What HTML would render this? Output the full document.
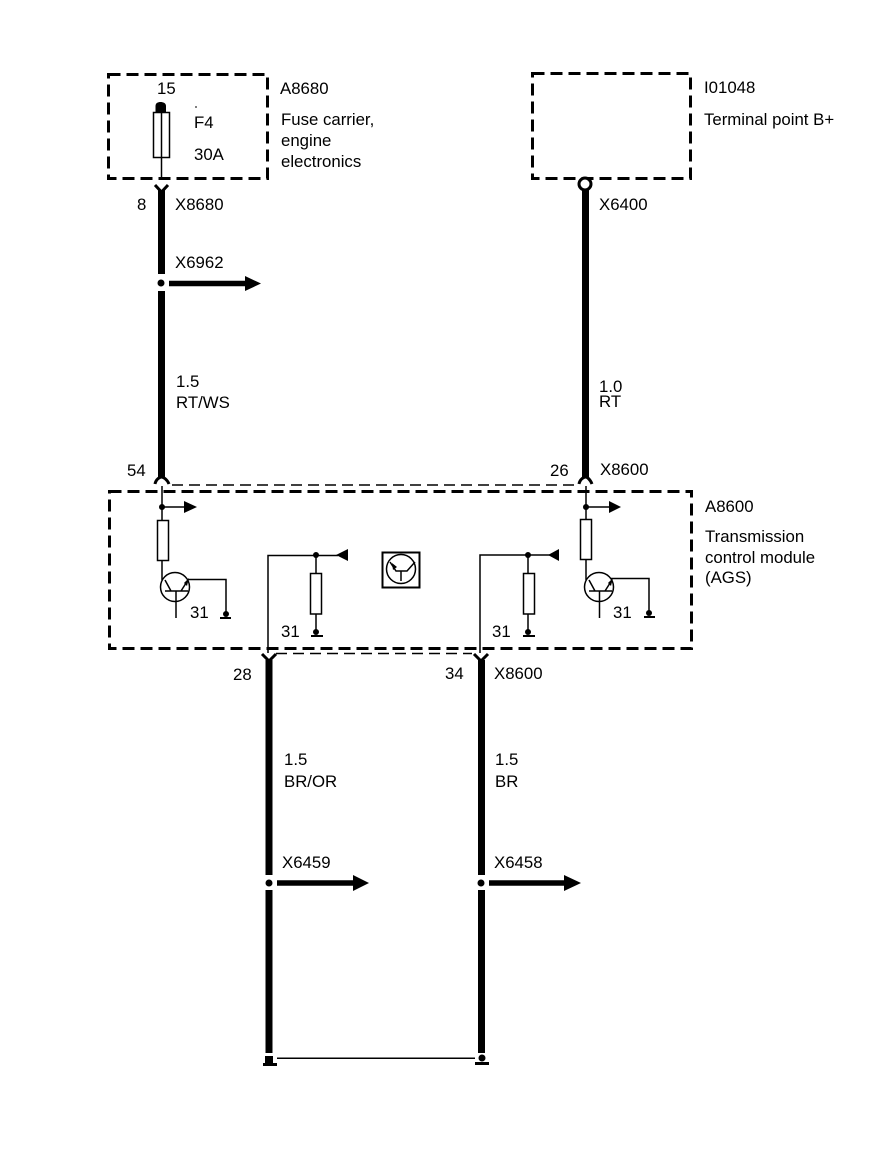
<!DOCTYPE html>
<html><head><meta charset="utf-8"><style>
html,body{margin:0;padding:0;background:#fff}
svg{display:block}
text{font-family:"Liberation Sans",sans-serif;font-size:16.800px;fill:#000}
</style></head><body>
<svg width="896" height="1170" viewBox="0 0 896 1170" xmlns="http://www.w3.org/2000/svg">
<rect width="896" height="1170" fill="#fff"/>
<!-- dashed boxes -->
<g fill="none" stroke="#000" stroke-width="3" stroke-dasharray="12 6">
<rect x="108.500" y="74.500" width="159" height="104"/>
<rect x="532.500" y="73.500" width="158" height="105"/>
<rect x="109.500" y="491.500" width="582" height="157"/>
</g>
<g fill="none" stroke="#000" stroke-width="1.500" stroke-dasharray="11 6">
<path d="M172 485H578"/>
<path d="M276 653.500H472"/>
</g>
<!-- thick wires -->
<g stroke="#000" stroke-width="7" fill="none">
<path d="M161.500 190V274M161.500 291V478"/>
<path d="M585.500 190V478"/>
<path d="M269 660V875M269 890V1053"/>
<path d="M481.500 660V875M481.500 890V1053"/>
</g>
<!-- stub arrows -->
<g stroke="#000" stroke-width="5.500" fill="none">
<path d="M169 283.500H248M277 883H355M489 883H565"/>
</g>
<g fill="#000">
<path d="M245 276L261 283.500L245 291Z"/>
<path d="M353 875L369 883L353 891Z"/>
<path d="M564 875L581 883L564 891Z"/>
<circle cx="161" cy="283" r="3.500"/>
<circle cx="269" cy="883" r="3.500"/>
<circle cx="481" cy="883" r="3.500"/>
</g>
<!-- forks -->
<g fill="none" stroke="#000" stroke-width="3">
<path d="M155 185L161.500 192L168 185"/>
<path d="M155 484C156 479 160 477 161.500 477C163 477 167 479 169 484"/>
<path d="M579 484C580 479 584 477 585.500 477C587 477 590 479 592 484"/>
<path d="M262 654L269 661L276 654"/>
<path d="M474 654L481 661L488 654"/>
</g>
<circle cx="585" cy="184" r="6" fill="#fff" stroke="#000" stroke-width="3"/>
<!-- fuse -->
<rect x="153.500" y="112.500" width="16" height="45" fill="#fff" stroke="#000" stroke-width="1.500"/>
<path d="M161.500 108V178" stroke="#000" stroke-width="1.500"/>
<path d="M155.500 113V106C155.500 103 158 102 160.500 102C163 102 166 103 166 106V113Z" fill="#000"/>
<path d="M195 107h2" stroke="#000"/>
<!-- thin circuits -->
<g fill="none" stroke="#000" stroke-width="1.500">
<path d="M162 486V520M162 561V580"/>
<path d="M162 507H187"/>
<circle cx="175" cy="587" r="14.500"/>
<path d="M165 591H188M176 591V618M165 580L171 591M181 591L188 580"/>
<path d="M188 579.500H226V614"/>
<rect x="157.500" y="520.500" width="11" height="40" fill="#fff"/>

<path d="M268 653V555.500H338M316 555V573M316 614V630"/>
<rect x="310.500" y="573.500" width="11" height="40.500" fill="#fff"/>

<path d="M480 653V555H550M528 555V573M528 614V630"/>
<rect x="523.500" y="573.500" width="11" height="40.500" fill="#fff"/>

<path d="M586 486V519M586 560V580M586 507H612"/>
<rect x="580.500" y="519.500" width="11" height="40" fill="#fff"/>
<circle cx="599" cy="587" r="14.500"/>
<path d="M589 591H612M599.500 591V618M589 580L595 591M605 591L612 580"/>
<path d="M611 578.500H649V612"/>

<rect x="382.500" y="552.500" width="37" height="35" stroke-width="2"/>
<circle cx="401" cy="569" r="14.500"/>
<path d="M390 562L396 571H407L415 562M401 571V581"/>
</g>
<!-- small arrows, dots, grounds -->
<g fill="#000">
<circle cx="162" cy="507" r="3"/>
<path d="M184 501L197 507L184 513Z"/>
<circle cx="586" cy="507" r="3"/>
<path d="M609 501L621 507L609 513Z"/>
<circle cx="316" cy="555" r="3"/>
<path d="M336 555L348 549V561Z"/>
<circle cx="528" cy="555" r="3"/>
<path d="M548 555L559 549V561Z"/>
<path d="M184 583L189 578L187 586Z"/>
<path d="M608 583L613 578L611 586Z"/>
<path d="M392 563L397 567L393 570Z"/>
<circle cx="226" cy="614" r="3"/>
<rect x="220" y="617" width="11" height="2"/>
<circle cx="316" cy="632" r="3"/>
<rect x="311" y="635" width="12" height="2"/>
<circle cx="528" cy="632" r="3"/>
<rect x="523" y="635" width="12" height="2"/>
<circle cx="649" cy="613" r="3"/>
<rect x="644" y="616" width="11" height="2"/>
<rect x="265" y="1056" width="8" height="8"/>
<rect x="263" y="1063" width="14" height="3"/>
<circle cx="482" cy="1058" r="3.500"/>
<rect x="475" y="1062" width="14" height="3"/>
<rect x="277" y="1057.500" width="198" height="1.500"/>
</g>
<!-- labels -->
<text x="157" y="94">15</text>
<text x="194" y="128">F4</text>
<text x="194" y="160">30A</text>
<text x="280" y="94">A8680</text>
<text x="281" y="125">Fuse carrier,</text>
<text x="281" y="146">engine</text>
<text x="281" y="167">electronics</text>
<text x="137" y="210">8</text>
<text x="175" y="210">X8680</text>
<text x="175" y="268">X6962</text>
<text x="176" y="387">1.5</text>
<text x="176" y="408">RT/WS</text>
<text x="704" y="93">I01048</text>
<text x="704" y="125">Terminal point B+</text>
<text x="599" y="210">X6400</text>
<text x="599" y="392">1.0</text>
<text x="599" y="407">RT</text>
<text x="127" y="476">54</text>
<text x="550" y="476">26</text>
<text x="600" y="475">X8600</text>
<text x="705" y="512">A8600</text>
<text x="705" y="542">Transmission</text>
<text x="705" y="563">control module</text>
<text x="705" y="583">(AGS)</text>
<text x="190" y="618">31</text>
<text x="281" y="637">31</text>
<text x="492" y="637">31</text>
<text x="613" y="618">31</text>
<text x="233" y="680">28</text>
<text x="445" y="679">34</text>
<text x="494" y="679">X8600</text>
<text x="284" y="765">1.5</text>
<text x="284" y="787">BR/OR</text>
<text x="495" y="765">1.5</text>
<text x="495" y="787">BR</text>
<text x="282" y="868">X6459</text>
<text x="494" y="868">X6458</text>
</svg>
</body></html>
